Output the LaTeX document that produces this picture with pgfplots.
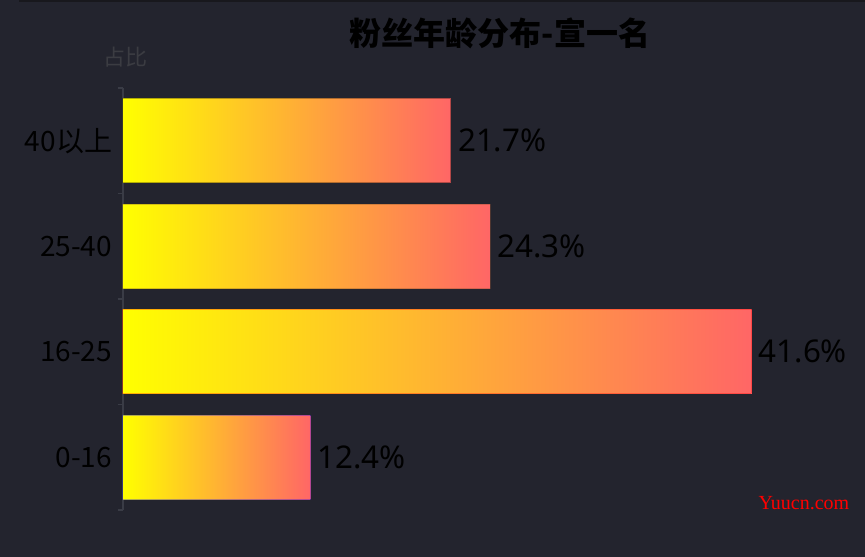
\documentclass[border=0pt]{standalone}
\usepackage{pgfplots}
\pgfplotsset{compat=1.18}
\usepackage{fontspec}
\setmainfont{Noto Sans CJK SC}
\newfontfamily\wmfont{Liberation Serif}
\newfontfamily\numfont{Noto Sans}
\definecolor{bgcol}{HTML}{23242E}
\definecolor{topcol}{HTML}{18181D}
\definecolor{axcol}{HTML}{3A3C46}
\definecolor{namecol}{HTML}{3B3C42}
\definecolor{barL}{HTML}{FFFF00}
\definecolor{barR}{HTML}{FF6666}
\begin{document}
\begin{tikzpicture}
% background, 1px = 0.75pt
\fill[bgcol] (0,0) rectangle (648.75pt,417.75pt);
\fill[topcol] (14pt,416.25pt) rectangle (648.75pt,417.75pt);
\begin{axis}[
    at={(92.25pt,35.25pt)}, anchor=south west,
    scale only axis,
    width=510pt, height=316.5pt,
    xbar, bar width=0.8, bar shift=0pt,
    xmin=0, xmax=45,
    ymin=-0.5, ymax=3.5,
    ytick={0,1,2,3},
    yticklabels={0-16,16-25,25-40,40以上},
    minor ytick={-0.5,0.5,1.5,2.5,3.5},
    major tick length=0pt,
    minor tick length=4pt,
    tick align=outside,
    axis x line=none,
    axis y line*=left,
    y axis line style={axcol, line width=0.8pt, -},
    minor tick style={axcol, line width=0.8pt},
    yticklabel style={font=\fontsize{21pt}{21pt}\selectfont, text=black, inner sep=0pt, xshift=-8pt},
    nodes near coords={\pgfmathprintnumber[fixed,precision=1,fixed zerofill,assume math mode=true]{\pgfplotspointmeta}\%},
    nodes near coords style={font=\numfont\fontsize{23.5pt}{23.5pt}\selectfont, text=black, anchor=west, inner sep=0pt, xshift=5pt},
    point meta=x,
    every axis plot/.append style={left color=barL, right color=barR, draw=black, draw opacity=0.3, line width=0.75pt},
    clip=false,
]
\addplot coordinates {(12.4,0)};
\addplot coordinates {(41.6,1)};
\addplot coordinates {(24.3,2)};
\addplot coordinates {(21.7,3)};
\end{axis}
\node[font=\fontsize{24pt}{24pt}\selectfont\bfseries, text=black] at (375pt,393pt) {粉丝年龄分布-宣一名};
\node[font=\fontsize{16.5pt}{16.5pt}\selectfont, text=namecol] at (93.75pt,375pt) {占比};
\node[font=\wmfont\fontsize{15pt}{15pt}\selectfont, text=red] at (603pt,40.5pt) {Yuucn.com};
\end{tikzpicture}
\end{document}
